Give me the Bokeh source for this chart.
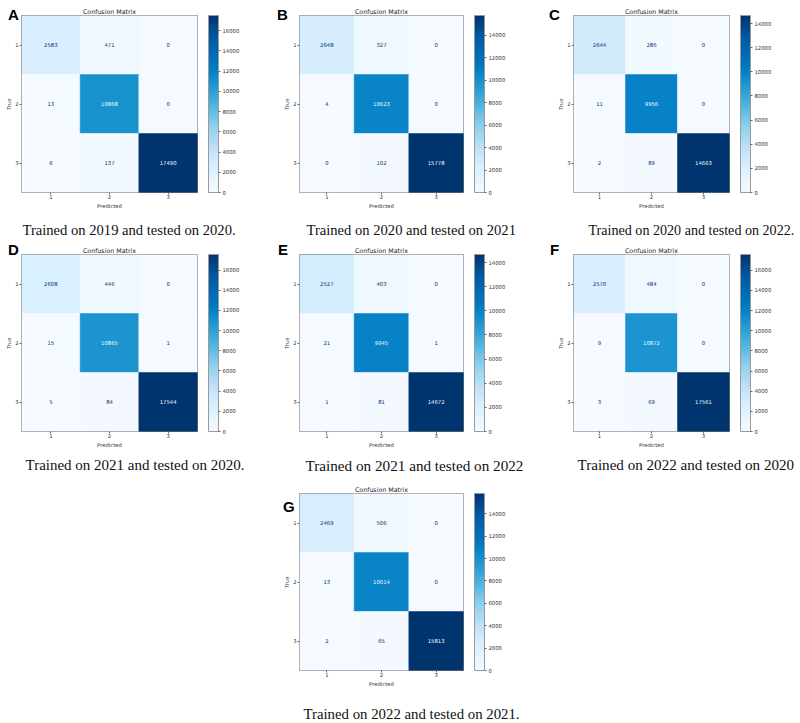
import colorsys

from bokeh.plotting import figure
from bokeh.models import (ColumnDataSource, LinearColorMapper, ColorBar,
                          FixedTicker, Range1d, Title, Div, GridBox)
from bokeh.palettes import Blues256
from bokeh.core.properties import value
from bokeh.embed import file_html
from bokeh.resources import INLINE

# ---- data -------------------------------------------------------------
classes = [1, 2, 3]

cm_a = [[2583, 471, 0], [13, 10868, 0], [6, 137, 17490]]
cm_b = [[2648, 327, 0], [4, 10623, 0], [0, 102, 15778]]
cm_c = [[2644, 286, 0], [11, 9956, 0], [2, 89, 14663]]
cm_d = [[2608, 446, 0], [15, 10865, 1], [5, 84, 17544]]
cm_e = [[2527, 403, 0], [21, 9945, 1], [1, 81, 14672]]
cm_f = [[2570, 484, 0], [9, 10872, 0], [3, 69, 17561]]
cm_g = [[2469, 506, 0], [13, 10614, 0], [2, 65, 15813]]

panel_letters = ["A", "B", "C", "D", "E", "F", "G"]
captions = [
    "Trained on 2019 and tested on 2020.",
    "Trained on 2020 and tested on 2021",
    "Trained on 2020 and tested on 2022.",
    "Trained on 2021 and tested on 2020.",
    "Trained on 2021 and tested on 2022",
    "Trained on 2022 and tested on 2020",
    "Trained on 2022 and tested on 2021.",
]
colorbar_ticks = [0, 2000, 4000, 6000, 8000, 10000, 12000, 14000, 16000]

# ---- layout (pixels) ---------------------------------------------------
# grid cell, size, borders, letter (left, baseline),
# caption: offset from frame left, gap below the axis, font size
geometry = {
    "A": dict(cell=(0, 0), w=265, h=239, l=21, r=68, t=15, b=47, let=(3, 15), cap=1, gap=5, fs=14.6),
    "B": dict(cell=(0, 1), w=265, h=239, l=32, r=56, t=15, b=47, let=(7, 15), cap=7, gap=5, fs=14.6),
    "C": dict(cell=(0, 2), w=270, h=239, l=43, r=49, t=15, b=47, let=(14, 15), cap=15, gap=5, fs=14.1),
    "D": dict(cell=(1, 0), w=265, h=237, l=21, r=68, t=15, b=45, let=(3, 11), cap=4, gap=1, fs=15.0),
    "E": dict(cell=(1, 1), w=265, h=237, l=21, r=67, t=15, b=45, let=(8, 11), cap=6, gap=1, fs=15.2),
    "F": dict(cell=(1, 2), w=270, h=237, l=23, r=71, t=15, b=45, let=(15, 11), cap=4, gap=1, fs=15.1),
    "G": dict(cell=(2, 1), w=265, h=247, l=34, r=54, t=17, b=53, let=(13, 31), cap=4, gap=11, fs=14.8),
}

SMALL = "5.3px"
FONT = value("DejaVu Sans")


def brighten(hex_color, k_sat=1.32, k_val=1.04, hue_shift=-4.0):
    r, g, b = (int(hex_color[i:i + 2], 16) / 255.0 for i in (1, 3, 5))
    h, s, v = colorsys.rgb_to_hsv(r, g, b)
    h = (h + hue_shift / 360.0) % 1.0
    r, g, b = colorsys.hsv_to_rgb(h, min(1.0, s * k_sat), min(1.0, v * k_val))
    return "#%02x%02x%02x" % (round(r * 255), round(g * 255), round(b * 255))


# light -> dark blues, a little more vivid than the stock ramp
palette = [brighten(c) for c in reversed(Blues256)]
dark_text, light_text = palette[-1], palette[0]


def make_panel(letter, cm, caption):
    g = geometry[letter]
    fh = g["h"] - g["t"] - g["b"]
    n = len(classes)

    vmax = max(max(r) for r in cm)
    vmin = min(min(r) for r in cm)
    thresh = (vmax + vmin) / 2.0

    xs, ys, vals, labels, tcolors = [], [], [], [], []
    for i, true_cls in enumerate(classes):
        for j, pred_cls in enumerate(classes):
            v = cm[i][j]
            xs.append(pred_cls)
            ys.append(true_cls)
            vals.append(v)
            labels.append(str(v))
            tcolors.append(light_text if v > thresh else dark_text)
    src = ColumnDataSource(dict(x=xs, y=ys, v=vals, label=labels, tc=tcolors))

    mapper = LinearColorMapper(palette=palette, low=vmin, high=vmax)

    p = figure(width=g["w"], height=g["h"],
               x_range=Range1d(0.5, n + 0.5), y_range=Range1d(n + 0.5, 0.5),
               min_border_left=g["l"], min_border_right=g["r"],
               min_border_top=g["t"], min_border_bottom=g["b"],
               output_backend="svg", toolbar_location=None,
               background_fill_color="white", border_fill_color="white")
    p.grid.visible = False
    p.outline_line_color = "#7a7a7a"
    p.outline_line_width = 1

    p.title.text = "Confusion Matrix"
    p.title.align = "center"
    p.title.text_font = "DejaVu Sans"
    p.title.text_font_size = "6.3px"
    p.title.text_font_style = "normal"
    p.title.text_color = "#222222"
    p.title.standoff = 1

    p.rect(x="x", y="y", width=1, height=1, source=src,
           fill_color={"field": "v", "transform": mapper},
           line_color={"field": "v", "transform": mapper}, line_width=0.5)
    p.text(x="x", y="y", text="label", source=src, text_color="tc",
           text_align="center", text_baseline="middle",
           text_font=FONT, text_font_size=SMALL)

    for ax in (p.xaxis[0], p.yaxis[0]):
        ax.ticker = FixedTicker(ticks=classes)
        ax.axis_line_color = None
        ax.major_tick_out = 2
        ax.major_tick_in = 0
        ax.minor_tick_line_color = None
        ax.major_tick_line_color = "#666666"
        ax.major_label_text_font = "DejaVu Sans"
        ax.major_label_text_font_size = SMALL
        ax.major_label_text_color = "#333333"
        ax.axis_label_text_font = "DejaVu Sans"
        ax.axis_label_text_font_size = SMALL
        ax.axis_label_text_font_style = "normal"
        ax.axis_label_text_color = "#333333"
    p.xaxis.major_label_standoff = 0
    p.xaxis.axis_label_standoff = 1
    p.yaxis.major_label_standoff = 1
    p.yaxis.axis_label_standoff = 0
    p.xaxis.axis_label = "Predicted"
    p.yaxis.axis_label = "True"

    cb = ColorBar(color_mapper=mapper,
                  ticker=FixedTicker(ticks=[t for t in colorbar_ticks if t <= vmax]),
                  width=10, height=fh, margin=0, padding=0,
                  location=(11, 0),
                  major_label_text_font="DejaVu Sans",
                  major_label_text_font_size=SMALL,
                  major_label_text_color="#333333",
                  major_tick_out=2, major_tick_in=0,
                  major_tick_line_color="#666666",
                  minor_tick_line_color=None,
                  bar_line_color="#9a9a9a", border_line_color=None,
                  background_fill_color=None, label_standoff=2)
    p.add_layout(cb, "right")

    # blank strip between the axis and the caption
    p.add_layout(Title(text=" ", text_font_size="1px", standoff=g["gap"]), "below")
    p.add_layout(Title(text=caption, align="left", offset=g["cap"],
                       text_font="Liberation Serif", text_font_size="%.1fpx" % g["fs"],
                       text_font_style="normal", text_color="#111111",
                       standoff=0), "below")

    lx, lb = g["let"]
    tag = Div(text=('<div style="position:relative;left:%dpx;top:%.1fpx;'
                    'font-family:\'Liberation Sans\',Arial,sans-serif;font-weight:bold;'
                    'font-size:15px;line-height:15px;color:#000;">%s</div>')
                   % (lx, lb - 12.7, letter),
              width=30, height=22)
    return p, tag, g["cell"]


matrices = [cm_a, cm_b, cm_c, cm_d, cm_e, cm_f, cm_g]
figs, tags = [], []
for l, m, c in zip(panel_letters, matrices, captions):
    p, tag, (r, col) = make_panel(l, m, c)
    figs.append((p, r, col))
    tags.append((tag, r, col))

grid = GridBox(children=figs + tags, spacing=0)

open("out.html", "w").write(file_html(grid, INLINE))
